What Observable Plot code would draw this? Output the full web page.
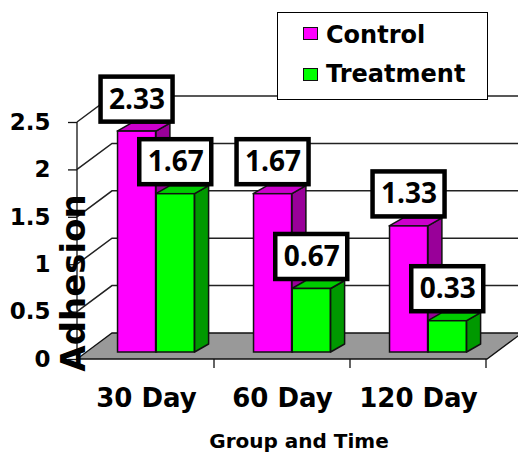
<!DOCTYPE html>
<html><head><meta charset="utf-8">
<script src="https://cdn.jsdelivr.net/npm/d3@7"></script>
<script src="https://cdn.jsdelivr.net/npm/@observablehq/plot@0.6"></script>
<style>
html,body{margin:0;padding:0;background:#fff;}
#wrap{position:relative;width:518px;height:455px;overflow:hidden;}
#legend{position:absolute;left:277px;top:12px;width:209px;height:86px;border:1px solid #000;background:#fff;font-family:"DejaVu Sans";font-weight:bold;font-size:24px;color:#000;}
#legend .sw{position:absolute;width:13px;height:11px;border:1.5px solid #111;}
#legend .lb{position:absolute;line-height:24px;white-space:nowrap;}
</style></head><body>
<div id="wrap"><div id="chart"></div>
<div id="legend">
  <div class="sw" style="left:25px;top:14px;background:#FF00FF"></div><div class="lb" style="left:48px;top:10px">Control</div>
  <div class="sw" style="left:25px;top:55px;background:#00FF00"></div><div class="lb" style="left:48px;top:49px">Treatment</div>
</div></div>
<script>
// ---- data ----
const categories = ["30 Day", "60 Day", "120 Day"];
const series = ["Control", "Treatment"];
const controlValues = [2.33, 1.67, 1.33];
const treatmentValues = [1.67, 0.67, 0.33];
const yTicks = [0, 0.5, 1, 1.5, 2, 2.5];
const yTickLabels = ["0", "0.5", "1", "1.5", "2", "2.5"];
const yTitle = "Adhesion";
const xTitle = "Group and Time";

// ---- styles ----
const faceColors = {
  Control: {front: "#FF00FF", top: "#CC00CC", side: "#990099"},
  Treatment: {front: "#00FF00", top: "#00CC00", side: "#009900"}
};
const WALL = {dx: 35, dy: -26};      // depth of the 3D box
const SHIFT = {dx: 9, dy: -7};       // bars sit slightly behind the front plane
const DEPTH = {dx: 14, dy: -8};      // depth of each bar
const BAR_W = 38.7, GROUP_OFF = 0.9;

const rows = [];
categories.forEach((c, i) => {
  rows.push({category: c, series: "Control", value: controlValues[i]});
  rows.push({category: c, series: "Treatment", value: treatmentValues[i]});
});

function bw(x, dims) {
  return x.bandwidth ? x.bandwidth() : (dims.width - dims.marginLeft - dims.marginRight) / categories.length;
}
function geom(x, y, b, d) {
  const x0 = x(d.category) + b / 2 + GROUP_OFF + (d.series === "Control" ? -BAR_W : 0) + SHIFT.dx;
  return {x0, x1: x0 + BAR_W, yt: y(d.value) + SHIFT.dy, yb: y(0) + SHIFT.dy};
}
const pts = a => a.map(p => p.join(",")).join(" ");

// back walls, floor, axis line and boundary ticks
function walls(index, {x, y}, values, dims) {
  const g = d3.create("svg:g");
  const L = dims.marginLeft, R = dims.width - dims.marginRight;
  for (const t of yTicks) {
    if (t === 0) continue;
    const yy = y(t);
    g.append("path").attr("d", `M${L},${yy}L${L + WALL.dx},${yy + WALL.dy}L${R + WALL.dx + 20},${yy + WALL.dy}`)
      .attr("fill", "none").attr("stroke", "#222").attr("stroke-width", 1.5);
  }
  const y0 = y(0);
  g.append("polygon").attr("points", pts([[L, y0], [R, y0], [R + WALL.dx, y0 + WALL.dy], [L + WALL.dx, y0 + WALL.dy]]))
    .attr("fill", "#999999").attr("stroke", "#111").attr("stroke-width", 1.3);
  g.append("line").attr("x1", L).attr("x2", L).attr("y1", y(yTicks[yTicks.length - 1])).attr("y2", y0)
    .attr("stroke", "#111").attr("stroke-width", 1.3);
  const b = bw(x, dims);
  const edges = categories.map(c => x(c)).concat([x(categories[categories.length - 1]) + b]);
  for (const e of edges) {
    g.append("line").attr("x1", e).attr("x2", e).attr("y1", y0).attr("y2", y0 + 9)
      .attr("stroke", "#111").attr("stroke-width", 1.3);
  }
  return g.node();
}

// top and side faces of each bar
function faces(index, {x, y}, values, dims) {
  const g = d3.create("svg:g").attr("stroke", "#111").attr("stroke-width", 1.5).attr("stroke-linejoin", "round");
  const b = bw(x, dims);
  for (const s of series) for (const d of rows.filter(r => r.series === s)) {
    const {x0, x1, yt, yb} = geom(x, y, b, d);
    g.append("polygon").attr("fill", faceColors[s].side)
      .attr("points", pts([[x1, yt], [x1 + DEPTH.dx, yt + DEPTH.dy], [x1 + DEPTH.dx, yb + DEPTH.dy], [x1, yb]]));
    g.append("polygon").attr("fill", faceColors[s].top)
      .attr("points", pts([[x0, yt], [x0 + DEPTH.dx, yt + DEPTH.dy], [x1 + DEPTH.dx, yt + DEPTH.dy], [x1, yt]]));
  }
  return g.node();
}

const LBL_DY = -39, BOX_W = 72, BOX_H = 45;
function boxes(index, {x, y}, values, dims) {
  const g = d3.create("svg:g");
  const b = bw(x, dims);
  for (const d of rows) {
    const {x0, x1} = geom(x, y, b, d);
    const cx = (x0 + x1) / 2, cy = y(d.value) + LBL_DY;
    g.append("rect").attr("x", cx - BOX_W / 2).attr("y", cy - BOX_H / 2).attr("width", BOX_W).attr("height", BOX_H)
      .attr("fill", "#fff").attr("stroke", "#000").attr("stroke-width", 4.5);
  }
  return g.node();
}

function titles() {
  const g = d3.create("svg:g").attr("font-family", "DejaVu Sans").attr("font-weight", "bold").attr("fill", "#000");
  g.append("text").attr("transform", "translate(85,283) rotate(-90)").attr("text-anchor", "middle")
    .attr("font-size", 34).text(yTitle);
  g.append("text").attr("x", 299).attr("y", 448).attr("text-anchor", "middle").attr("font-size", 20).text(xTitle);
  return g.node();
}

const BAND = (518 - 77 - 31) / categories.length;
const bandCenterOffset = s => (s === "Control" ? -BAR_W / 2 : BAR_W / 2) + GROUP_OFF + SHIFT.dx;

const chart = Plot.plot({
  width: 518, height: 455,
  marginLeft: 77, marginRight: 31, marginTop: 122, marginBottom: 96,
  style: {background: "transparent", color: "#000", overflow: "visible"},
  x: {type: "band", domain: categories, padding: 0, axis: null},
  y: {domain: [0, 2.5], axis: null},
  marks: [
    walls,
    faces,
    ...series.map(s => {
      const left = BAND / 2 + GROUP_OFF - (s === "Control" ? BAR_W : 0);
      return Plot.barY(rows.filter(r => r.series === s), {
        x: "category", y: "value", fill: faceColors[s].front, stroke: "#111", strokeWidth: 1.5,
        insetLeft: left, insetRight: BAND - left - BAR_W, dx: SHIFT.dx, dy: SHIFT.dy
      });
    }),
    boxes,
    ...series.map(s => Plot.text(rows.filter(r => r.series === s), {
      x: "category", y: "value", text: d => d.value.toFixed(2),
      dx: bandCenterOffset(s), dy: LBL_DY,
      fontSize: 28, fontWeight: "bold", fontFamily: "Open Sans", fill: "#000"
    })),
    Plot.axisY(yTicks, {tickFormat: d => yTickLabels[yTicks.indexOf(d)], tickSize: 9, tickPadding: 18,
      fontSize: 23, fontWeight: "bold", fontFamily: "DejaVu Sans", stroke: "#111", strokeWidth: 1.3, label: null}),
    Plot.axisX({tickSize: 0, tickPadding: 29, fontSize: 26, fontWeight: "bold", fontFamily: "DejaVu Sans", label: null}),
    titles
  ]
});
document.getElementById("chart").append(chart);
</script></body></html>
